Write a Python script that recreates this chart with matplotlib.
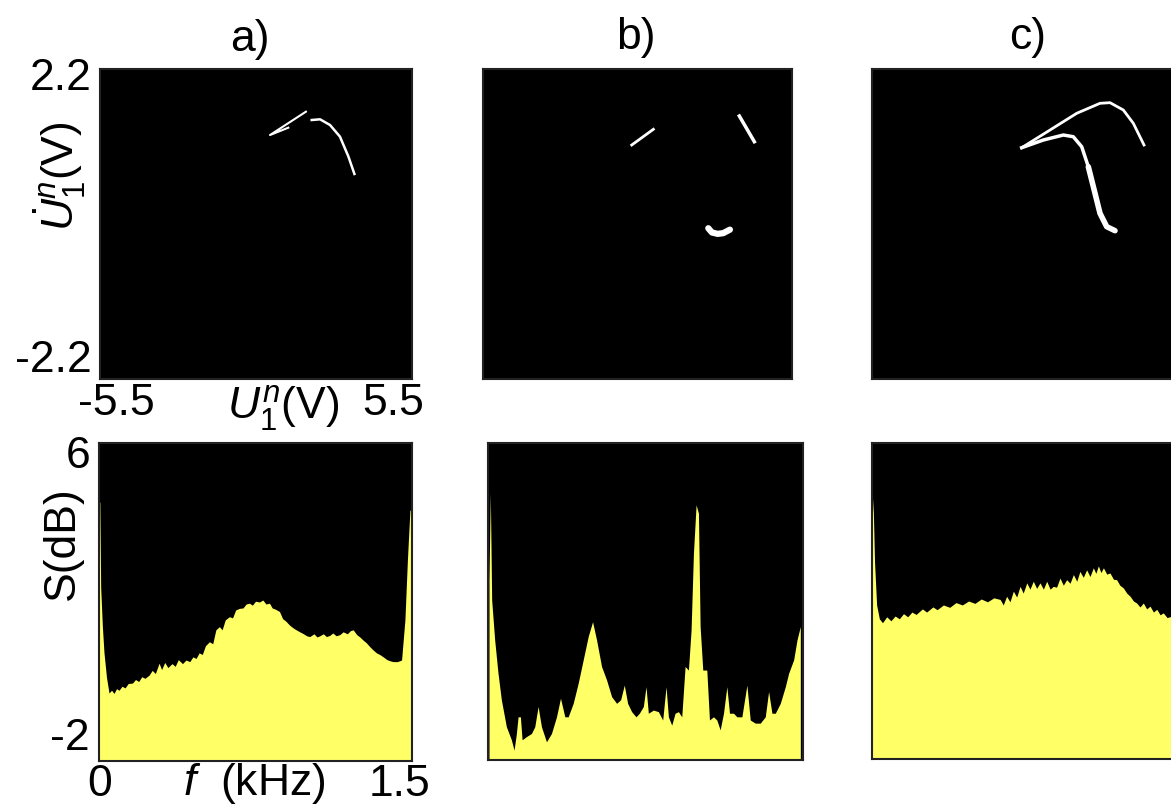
import numpy as np
import matplotlib
matplotlib.use("Agg")
import matplotlib.pyplot as plt

plt.rcParams['font.family'] = ['Liberation Sans', 'DejaVu Sans']
plt.rcParams['mathtext.fontset'] = 'custom'
plt.rcParams['mathtext.rm'] = 'Liberation Sans'
plt.rcParams['mathtext.it'] = 'Liberation Sans:italic'

## phase portraits (U1 in V, dU1 in V)
a_x1 = [1.76, 0.494, 1.14]
a_y1 = [1.594, 1.263, 1.367]
a_x2 = [1.964, 2.257, 2.61, 2.96, 3.26, 3.47]
a_y2 = [1.476, 1.486, 1.405, 1.24, 0.955, 0.71]

b_x1 = [-0.206, 0.564]
b_y1 = [1.121, 1.344]
b_x2 = [3.625, 4.159]
b_y2 = [1.533, 1.168]
b_x3 = [2.52, 2.65, 2.85, 3.05, 3.29]
b_y3 = [-0.06, -0.12, -0.14, -0.13, -0.08]

c_xup = [-0.188, 0.817, 1.764, 2.59, 2.946, 3.418, 3.773, 4.152]
c_yup = [1.083, 1.334, 1.571, 1.713, 1.722, 1.618, 1.429, 1.121]
c_xlo = [-0.188, 0.579, 1.289, 1.643, 1.941, 2.176]
c_ylo = [1.083, 1.192, 1.263, 1.239, 1.097, 0.813]
c_xlo2 = [2.176, 2.413, 2.59, 2.829, 3.123]
c_ylo2 = [0.813, 0.436, 0.152, -0.038, -0.095]

## spectra (f in kHz, S in dB)
fa = [0.000, 0.004, 0.008, 0.016, 0.024, 0.036, 0.048, 0.06, 0.072, 0.084,
      0.096, 0.11, 0.125, 0.14, 0.16, 0.175, 0.19, 0.205, 0.22, 0.24,
      0.255, 0.27, 0.288, 0.30, 0.315, 0.33, 0.35, 0.365, 0.38, 0.40,
      0.417, 0.435, 0.45, 0.465, 0.48, 0.495, 0.51, 0.529, 0.545, 0.56,
      0.577, 0.59, 0.605, 0.625, 0.64, 0.655, 0.673, 0.69, 0.705, 0.721,
      0.735, 0.75, 0.769, 0.785, 0.80, 0.817, 0.83, 0.845, 0.865, 0.88,
      0.895, 0.913, 0.93, 0.945, 0.962, 0.98, 0.995, 1.01, 1.03, 1.045,
      1.058, 1.075, 1.09, 1.106, 1.12, 1.137, 1.154, 1.17, 1.19, 1.205,
      1.218, 1.235, 1.25, 1.266, 1.28, 1.297, 1.314, 1.33, 1.345, 1.362,
      1.38, 1.395, 1.41, 1.43, 1.45, 1.466, 1.478, 1.49, 1.497]
Sa = [4.57, 4.5, 2.39, 1.4, 0.72, 0.1, -0.29, -0.22, -0.3, -0.18,
      -0.22, -0.12, -0.16, -0.05, -0.04, 0.05, 0.0, 0.12, 0.08, 0.16,
      0.28, 0.2, 0.46, 0.3, 0.48, 0.35, 0.45, 0.38, 0.55, 0.45,
      0.54, 0.5, 0.62, 0.58, 0.72, 0.68, 0.9, 1.0, 0.95, 1.3,
      1.38, 1.3, 1.55, 1.63, 1.6, 1.8, 1.84, 1.85, 1.95, 1.97,
      1.92, 2.02, 2.0, 2.05, 1.95, 1.97, 1.85, 1.82, 1.76, 1.58,
      1.52, 1.42, 1.35, 1.3, 1.25, 1.2, 1.15, 1.13, 1.2, 1.12,
      1.15, 1.2, 1.13, 1.16, 1.22, 1.15, 1.18, 1.25, 1.2, 1.28,
      1.30, 1.18, 1.12, 1.04, 0.98, 0.88, 0.79, 0.72, 0.68, 0.62,
      0.55, 0.52, 0.50, 0.5, 0.54, 1.55, 3.06, 4.31, 4.31]

fb = [0.0048, 0.0111, 0.0175, 0.0318, 0.0477, 0.0636, 0.0875, 0.1113, 0.1241, 0.1352,
      0.1432, 0.1543, 0.1623, 0.1829, 0.2068, 0.2227, 0.2386, 0.2545, 0.2784, 0.3022,
      0.3261, 0.3452, 0.3659, 0.3818, 0.4056, 0.4295, 0.4534, 0.4772, 0.4979, 0.5170,
      0.5408, 0.5647, 0.5886, 0.6124, 0.6315, 0.6490, 0.6649, 0.6840, 0.7047, 0.7206,
      0.7397, 0.7524, 0.7635, 0.7874, 0.8113, 0.8319, 0.8478, 0.8590, 0.8749, 0.8908,
      0.9067, 0.9226, 0.9385, 0.9544, 0.9671, 0.9783, 0.9910, 1.0021, 1.0101, 1.0228,
      1.0419, 1.0546, 1.0737, 1.0896, 1.1055, 1.1214, 1.1373, 1.1501, 1.1691, 1.1851,
      1.2089, 1.2328, 1.2487, 1.2726, 1.2964, 1.3203, 1.3362, 1.3521, 1.3680, 1.3918,
      1.4157, 1.4316, 1.4555, 1.4714, 1.4873]
Sb = [2.55, 4.74, 2.04, 1.03, 0.19, -0.48, -1.16, -1.49, -1.75, -1.33,
      -0.91, -0.91, -1.49, -1.41, -1.33, -1.16, -0.65, -1.16, -1.54, -1.33,
      -0.91, -0.44, -0.91, -0.91, -0.57, -0.06, 0.53, 1.12, 1.49, 1.03,
      0.36, 0.02, -0.40, -0.57, -0.48, -0.11, -0.57, -0.78, -0.91, -0.82,
      -0.65, -0.15, -0.82, -0.74, -0.78, -0.99, -0.15, -0.91, -1.12, -0.82,
      -0.78, -0.91, 0.36, 0.27, 1.28, 3.22, 4.44, 4.23, 1.37, 0.27,
      0.27, -0.99, -0.91, -0.99, -1.24, -0.82, -0.15, -0.82, -0.82, -0.91,
      -0.91, -0.11, -0.99, -1.07, -1.07, -0.91, -0.27, -0.82, -0.82, -0.57,
      -0.15, 0.19, 0.53, 1.03, 1.37]

fc = [0.000, 0.005, 0.012, 0.022, 0.035, 0.05, 0.07, 0.09, 0.11, 0.13,
      0.15, 0.17, 0.19, 0.21, 0.24, 0.26, 0.29, 0.31, 0.34, 0.37,
      0.40, 0.43, 0.46, 0.49, 0.52, 0.55, 0.58, 0.61, 0.625, 0.641,
      0.657, 0.673, 0.689, 0.705, 0.72, 0.737, 0.752, 0.768, 0.784, 0.800,
      0.816, 0.832, 0.848, 0.863, 0.879, 0.895, 0.911, 0.927, 0.943, 0.959,
      0.975, 0.990, 1.006, 1.022, 1.038, 1.054, 1.066, 1.078, 1.09, 1.102,
      1.118, 1.133, 1.15, 1.165, 1.18, 1.197, 1.213, 1.229, 1.245, 1.260,
      1.276, 1.292, 1.308, 1.324, 1.34, 1.356, 1.372, 1.387, 1.405, 1.424,
      1.44, 1.46, 1.48, 1.49, 1.5]
Sc = [3.9, 4.6, 3.0, 1.9, 1.55, 1.45, 1.6, 1.5, 1.62, 1.55,
      1.68, 1.6, 1.72, 1.66, 1.8, 1.72, 1.85, 1.78, 1.9, 1.84,
      1.96, 1.9, 2.0, 1.94, 2.05, 1.98, 2.08, 2.04, 1.9, 2.12,
      1.98, 2.25, 2.1, 2.37, 2.2, 2.46, 2.3, 2.50, 2.32, 2.46,
      2.3, 2.50, 2.3, 2.37, 2.35, 2.58, 2.4, 2.54, 2.45, 2.67,
      2.5, 2.75, 2.6, 2.79, 2.62, 2.84, 2.7, 2.89, 2.72, 2.84,
      2.68, 2.71, 2.55, 2.54, 2.4, 2.33, 2.2, 2.12, 2.0, 1.95,
      1.85, 1.95, 1.8, 1.87, 1.72, 1.79, 1.65, 1.70, 1.58, 1.61,
      1.55, 1.7, 2.8, 4.2, 4.2]

YELLOW = '#ffff66'
W, H = 1171, 809
FS = 32

fig = plt.figure(figsize=(W / 100, H / 100), dpi=100)


def box(x0, y0, x1, y1):
    ## pixel box (top-left origin) -> figure axes
    ax = fig.add_axes([x0 / W, 1 - y1 / H, (x1 - x0) / W, (y1 - y0) / H])
    ax.set_facecolor('black')
    ax.set_xticks([])
    ax.set_yticks([])
    for s in ax.spines.values():
        s.set_color('#222222')
        s.set_linewidth(1.5)
    return ax


def txt(x, y, s, **kw):
    fig.text(x / W, 1 - y / H, s, ha='center', va='center', fontsize=FS, **kw)


## top row: phase portraits
tops = [box(100, 69, 412, 379), box(483, 69, 792, 379), box(872, 69, 1182, 379)]
for ax in tops:
    ax.set_xlim(-5.5, 5.5)
    ax.set_ylim(-2.2, 2.2)

tops[0].plot(a_x1, a_y1, color='white', lw=1.5)
tops[0].plot(a_x2, a_y2, color='white', lw=1.8)
tops[1].plot(b_x1, b_y1, color='white', lw=2)
tops[1].plot(b_x2, b_y2, color='white', lw=2.5)
tops[1].plot(b_x3, b_y3, color='white', lw=4.5, solid_capstyle='round')
tops[2].plot(c_xup, c_yup, color='white', lw=2)
tops[2].plot(c_xlo, c_ylo, color='white', lw=2.5)
tops[2].plot(c_xlo2, c_ylo2, color='white', lw=4, solid_capstyle='round')

## bottom row: spectra
bots = [box(99, 443, 412, 761), box(488, 443, 803, 760), box(872, 443, 1187, 759)]
for ax, f, S in zip(bots, [fa, fb, fc], [Sa, Sb, Sc]):
    ax.fill_between(f, -3, S, color=YELLOW, lw=0)
    ax.set_xlim(0, 1.5)
    ax.set_ylim(-2, 6)

## labels
txt(250, 40, 'a)')
txt(636, 38, 'b)')
txt(1028, 38, 'c)')
fig.text(92 / W, 1 - 79 / H, '2.2', ha='right', va='center', fontsize=FS)
fig.text(92 / W, 1 - 361 / H, '-2.2', ha='right', va='center', fontsize=FS)
txt(116, 403, '-5.5')
txt(393, 403, '5.5')
txt(283, 408, r'$U_1^n$(V)')
txt(60, 176, r'$\dot{U}_1^n$(V)', rotation=90)
txt(78, 457, '6')
txt(62, 543, 'S(dB)', rotation=90)
txt(70, 739, '-2')
txt(100, 784, '0')
txt(254, 783, r'$f$  (kHz)')
txt(400, 784, '1.5')

fig.savefig('out.png', dpi=100)
